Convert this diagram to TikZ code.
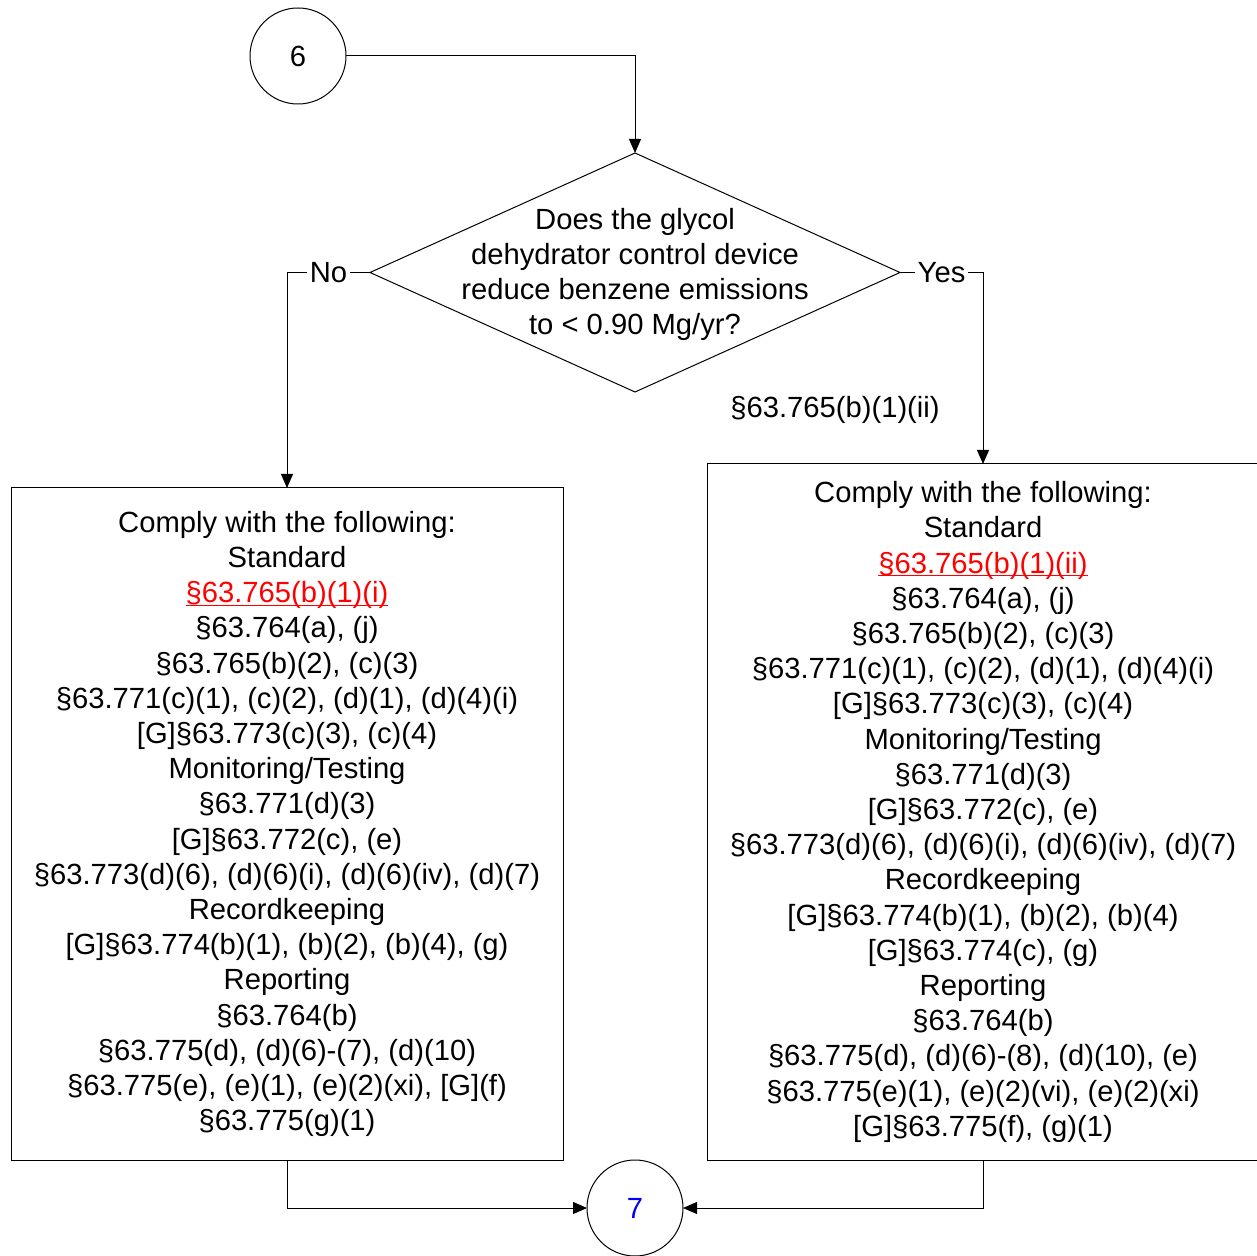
\documentclass[tikz,border=0pt]{standalone}
\usepackage{fontspec}
\setmainfont{Liberation Sans}
\usetikzlibrary{shapes.geometric,arrows.meta}
\newcommand\redref[1]{\textcolor{red}{\setbox0\hbox{#1}\rlap{\rule[-1.6pt]{\wd0}{0.6pt}}\box0}}

\begin{document}
\begin{tikzpicture}[x=0.5pt,y=-0.5pt,line width=0.5pt,
    every node/.style={font=\fontsize{14.6}{17.6}\selectfont},
    conn/.style={circle,draw,minimum size=48pt,inner sep=0pt,outer sep=0pt},
    rulebox/.style={draw,align=center,minimum width=276pt,inner sep=0pt,outer sep=0pt},
    arr/.style={-{Triangle[length=7pt,width=6pt]}},
    lbl/.style={fill=white,inner sep=1.5pt}]
  \clip (0,0) rectangle (1257,1256);
  % connectors in and out
  \node[conn] (c6) at (298,56) {6};
  \node[conn,text=blue] (c7) at (635,1208) {7};
  % the question
  \node[diamond,draw,minimum width=265pt,minimum height=119.5pt,
    inner sep=0pt,outer sep=0pt] (q) at (635,272.5) {};
  \node[align=center] (qtext) at ([yshift=-1pt]q.center)
    {Does the glycol\\dehydrator control device\\reduce benzene emissions\\to < 0.90 Mg/yr?};
  % requirements
  \node[rulebox,minimum height=336pt] (lbox) at (287,824) {%
    Comply with the following:\\
    Standard\\
    \redref{§63.765(b)(1)(i)}\\
    §63.764(a), (j)\\
    §63.765(b)(2), (c)(3)\\
    §63.771(c)(1), (c)(2), (d)(1), (d)(4)(i)\\
    {[G]}§63.773(c)(3), (c)(4)\\
    Monitoring/Testing\\
    §63.771(d)(3)\\
    {[G]}§63.772(c), (e)\\
    §63.773(d)(6), (d)(6)(i), (d)(6)(iv), (d)(7)\\
    Recordkeeping\\
    {[G]}§63.774(b)(1), (b)(2), (b)(4), (g)\\
    Reporting\\
    §63.764(b)\\
    §63.775(d), (d)(6)-(7), (d)(10)\\
    §63.775(e), (e)(1), (e)(2)(xi), [G](f)\\
    §63.775(g)(1)};
  \node[rulebox,minimum height=348pt] (rbox) at (983,812) {%
    Comply with the following:\\
    Standard\\
    \redref{§63.765(b)(1)(ii)}\\
    §63.764(a), (j)\\
    §63.765(b)(2), (c)(3)\\
    §63.771(c)(1), (c)(2), (d)(1), (d)(4)(i)\\
    {[G]}§63.773(c)(3), (c)(4)\\
    Monitoring/Testing\\
    §63.771(d)(3)\\
    {[G]}§63.772(c), (e)\\
    §63.773(d)(6), (d)(6)(i), (d)(6)(iv), (d)(7)\\
    Recordkeeping\\
    {[G]}§63.774(b)(1), (b)(2), (b)(4)\\
    {[G]}§63.774(c), (g)\\
    Reporting\\
    §63.764(b)\\
    §63.775(d), (d)(6)-(8), (d)(10), (e)\\
    §63.775(e)(1), (e)(2)(vi), (e)(2)(xi)\\
    {[G]}§63.775(f), (g)(1)};
  \node (cite) at (835,410) {§63.765(b)(1)(ii)};
  % flow
  \draw[arr] (c6.east) -| (q.north);
  \draw[arr] (q.west) -| node[lbl,pos=0.25] {No} (lbox.north);
  \draw[arr] (q.east) -| node[lbl,pos=0.25] {Yes} (rbox.north);
  \draw[arr] (lbox.south) |- (c7.west);
  \draw[arr] (rbox.south) |- (c7.east);
\end{tikzpicture}
\end{document}
